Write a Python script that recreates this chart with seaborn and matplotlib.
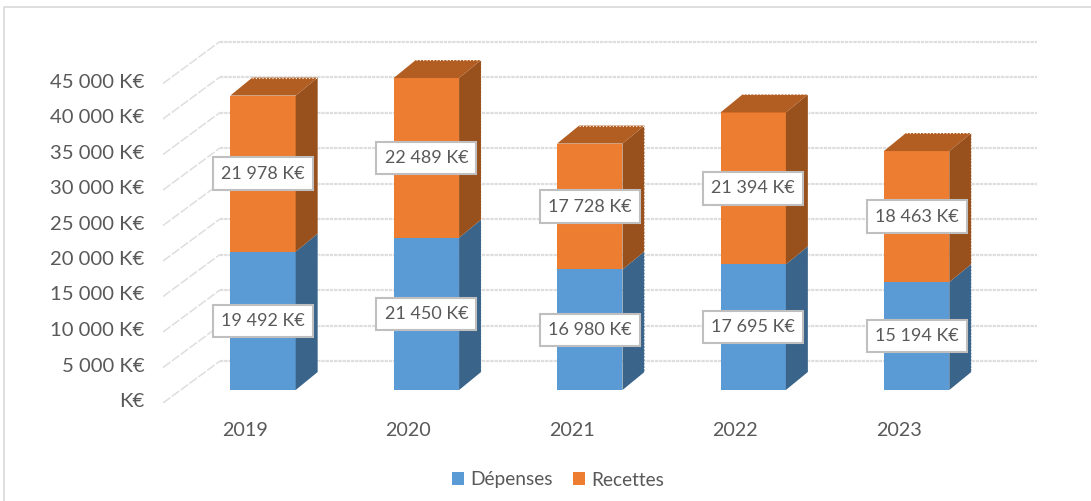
import matplotlib
matplotlib.use('Agg')
import matplotlib.pyplot as plt
import matplotlib.transforms as mtrans
from matplotlib.lines import Line2D
from matplotlib.patches import Polygon
import pandas as pd
import seaborn as sns

# Data
years = ['2019', '2020', '2021', '2022', '2023']
depenses = [19492, 21450, 16980, 17695, 15194]
recettes = [21978, 22489, 17728, 21394, 18463]
y_ticks = [0, 5000, 10000, 15000, 20000, 25000, 30000, 35000, 40000, 45000]

BLUE = '#5B9BD5'
ORANGE = '#ED7D31'
BLUE_SIDE = '#3A6489'
ORANGE_SIDE = '#98501C'
ORANGE_TOP = '#B25D21'
GRID = '#DEDEDE'
TEXT = '#595959'


def euro(value):
    if value == 0:
        return 'K€'
    return f'{value:,}'.replace(',', ' ') + ' K€'


sns.set_theme(style='white')
plt.rcParams['font.family'] = ['Lato', 'DejaVu Sans']

W, H = 1091, 501
fig = plt.figure(figsize=(W / 100, H / 100), dpi=100)

# axes placed in pixels so the scale matches the picture
left, right, top, bottom = 150, 1040, 35, 403
ax = fig.add_axes([left / W, 1 - bottom / H, (right - left) / W, (bottom - top) / H])

PX_PER_CAT = 163.4
PX_PER_UNIT = 7.1 / 1000
FIRST_BAR_PX = 263
ZERO_PX = 390
unit_x = 1 / PX_PER_CAT
unit_y = 1 / PX_PER_UNIT

df = pd.DataFrame({'year': years, 'Dépenses': depenses, 'Recettes': recettes})
sns.barplot(data=df, x='year', y='Dépenses', color=BLUE, saturation=1, width=0.4,
            linewidth=0, label='Dépenses', ax=ax, zorder=3)
sns.barplot(data=df, x='year', y='Recettes', color=ORANGE, saturation=1, width=0.4,
            linewidth=0, bottom=depenses, label='Recettes', ax=ax, zorder=3)

ax.set_xlim((left - FIRST_BAR_PX) * unit_x, (right - FIRST_BAR_PX) * unit_x)
ax.set_ylim((ZERO_PX - bottom) * unit_y, (ZERO_PX - top) * unit_y)

# back wall and left wall gridlines
for v in y_ticks:
    xs = [(163 - FIRST_BAR_PX) * unit_x, (220 - FIRST_BAR_PX) * unit_x, (1037 - FIRST_BAR_PX) * unit_x]
    ys = [v - 13 * unit_y, v + 29 * unit_y, v + 29 * unit_y]
    ax.plot(xs[:2], ys[:2], color=GRID, lw=1.1, ls=(0, (6, 1.2)), zorder=1)
    ax.plot(xs[1:], ys[1:], color=GRID, lw=1.6, ls=(0, (1.5, 0.4)), zorder=1)

# 3D depth of the bars
dx = 22 * unit_x
dy = 18 * unit_y
front_bars = [ax.containers[0], ax.containers[1]]
side_colors = [BLUE_SIDE, ORANGE_SIDE]
for container, side in zip(front_bars, side_colors):
    for bar in container:
        x1 = bar.get_x() + bar.get_width()
        y0 = bar.get_y()
        y1 = y0 + bar.get_height()
        ax.add_patch(Polygon([(x1, y0), (x1 + dx, y0 + dy), (x1 + dx, y1 + dy), (x1, y1)],
                             facecolor=side, edgecolor='none', zorder=3))
        # jagged outer edge of the bars
        ax.plot([x1 + dx, x1 + dx], [y0 + dy, y1 + dy], color='white', lw=0.8, ls=(0, (1, 2)), zorder=4)
for bar in front_bars[1]:
    x0 = bar.get_x()
    x1 = x0 + bar.get_width()
    y1 = bar.get_y() + bar.get_height()
    ax.add_patch(Polygon([(x0, y1), (x1, y1), (x1 + dx, y1 + dy), (x0 + dx, y1 + dy)],
                         facecolor=ORANGE_TOP, edgecolor='none', zorder=3))
    ax.plot([x0 + dx, x1 + dx], [y1 + dy, y1 + dy], color='white', lw=0.8, ls=(0, (1, 2)), zorder=4)

# value boxes
box = dict(boxstyle='square,pad=0.45', facecolor='white', edgecolor='#BFBFBF', linewidth=1.5)
for container, values in zip(front_bars, [depenses, recettes]):
    labels = ax.bar_label(container, labels=[euro(v) for v in values], label_type='center',
                          color=TEXT, fontsize=13, bbox=box, zorder=5)
    for t in labels:
        t.set_zorder(5)

# axis labels, shifted onto the front edge of the floor
ax.set_yticks(y_ticks)
ax.set_yticklabels([euro(v) for v in y_ticks])
ax.tick_params(axis='y', length=0, pad=4, labelsize=14.6, labelcolor=TEXT)
ax.tick_params(axis='x', length=0, pad=14, labelsize=14.2, labelcolor=TEXT)
shift_y = mtrans.ScaledTranslation(0, -10 / 100, fig.dpi_scale_trans)
shift_x = mtrans.ScaledTranslation(-18 / 100, 0, fig.dpi_scale_trans)
for lab in ax.get_yticklabels():
    lab.set_transform(lab.get_transform() + shift_y)
for lab in ax.get_xticklabels():
    lab.set_transform(lab.get_transform() + shift_x)
ax.set_xlabel('')
ax.set_ylabel('')
sns.despine(ax=ax, left=True, bottom=True)

handles, names = ax.get_legend_handles_labels()
ax.legend(handles[:2], names[:2], loc='center', bbox_to_anchor=(558 / W, 1 - 480 / H),
          bbox_transform=fig.transFigure, ncol=2, frameon=False, fontsize=13.8,
          labelcolor=TEXT, handlelength=0.63, handleheight=0.63, handletextpad=0.31,
          columnspacing=1.04)

# chart frame, only top and left show in the crop
fig.add_artist(Line2D([4 / W, 4 / W, 1], [0, 1 - 7 / H, 1 - 7 / H], color='#D9D9D9', lw=1.2))

fig.savefig('out.png', dpi=100)
plt.close(fig)
